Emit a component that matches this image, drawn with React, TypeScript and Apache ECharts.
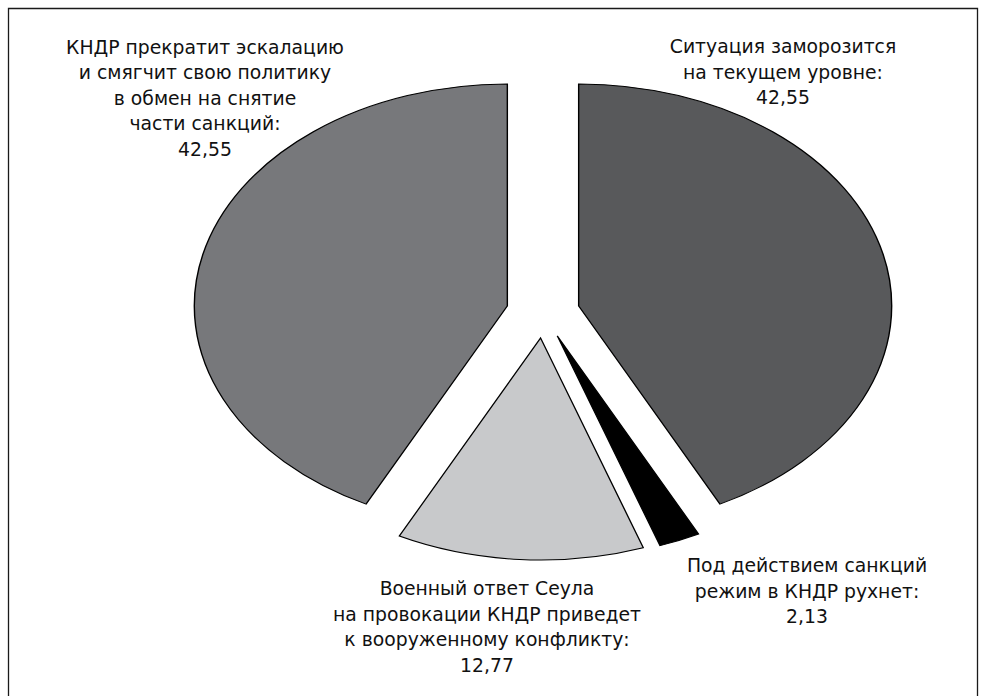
import React, { useEffect, useRef } from "react";
import * as echarts from "echarts";

// ---- data ----
const categories: string[] = [
  "Ситуация заморозится на текущем уровне",
  "Под действием санкций режим в КНДР рухнет",
  "Военный ответ Сеула на провокации КНДР приведет к вооруженному конфликту",
  "КНДР прекратит эскалацию и смягчит свою политику в обмен на снятие части санкций",
];
const values: number[] = [42.55, 2.13, 12.77, 42.55];
const labelLines: string[][] = [
  ["Ситуация заморозится", "на текущем уровне:"],
  ["Под действием санкций", "режим в КНДР рухнет:"],
  ["Военный ответ Сеула", "на провокации КНДР приведет", "к вооруженному конфликту:"],
  ["КНДР прекратит эскалацию", "и смягчит свою политику", "в обмен на снятие", "части санкций:"],
];

// ---- styles / layout ----
const sliceColors = ["#58595b", "#000000", "#c8c9cb", "#77787b"];
const CX = 543;
const CY = 312;
const RY = 222;
const RX = 313;
const EXPLODE = 26;
const labelPos: [number, number][] = [
  [783, 72],
  [807, 591],
  [487, 627],
  [205, 98],
];
const FONT = "'DejaVu Sans', 'Liberation Sans', Arial, sans-serif";
const FONT_SIZE = 18.8;

const fmt = (v: number) => v.toFixed(2).replace(".", ",");

export default function App() {
  const ref = useRef<HTMLDivElement>(null);
  useEffect(() => {
    if (!ref.current) return;
    const chart = echarts.init(ref.current, undefined, { renderer: "svg" });
    const total = values.reduce((a, b) => a + b, 0);
    const starts: number[] = [];
    const ends: number[] = [];
    let acc = 0;
    values.forEach((v) => {
      starts.push((acc / total) * Math.PI * 2);
      acc += v;
      ends.push((acc / total) * Math.PI * 2);
    });

    const labelGraphics = labelLines.map((lines, i) => ({
      type: "text",
      x: labelPos[i][0],
      y: labelPos[i][1],
      style: {
        text: [...lines, fmt(values[i])].join("\n"),
        fill: "#111",
        fontSize: FONT_SIZE,
        fontFamily: FONT,
        lineHeight: 25.5,
        align: "center",
        verticalAlign: "middle",
      },
    }));

    chart.setOption({
      animation: false,
      backgroundColor: "#ffffff",
      graphic: [
        {
          type: "rect",
          shape: { x: 8.5, y: 8.5, width: 969, height: 720 },
          style: { fill: "none", stroke: "#1a1a1a", lineWidth: 1.3 },
          silent: true,
        },
        ...labelGraphics,
      ],
      series: [
        {
          type: "custom",
          coordinateSystem: "none",
          data: values.map((v, i) => ({ name: categories[i], value: v })),
          renderItem: (params: any) => {
            const i = params.dataIndex;
            const s = starts[i];
            const e = ends[i];
            const mid = (s + e) / 2;
            return {
              type: "group",
              x: CX,
              y: CY,
              scaleX: RX / RY,
              children: [
                {
                  type: "sector",
                  shape: {
                    cx: EXPLODE * Math.sin(mid),
                    cy: -EXPLODE * Math.cos(mid),
                    r0: 0,
                    r: RY,
                    startAngle: s - Math.PI / 2,
                    endAngle: e - Math.PI / 2,
                    clockwise: true,
                  },
                  style: {
                    fill: sliceColors[i],
                    stroke: "#000000",
                    lineWidth: 1,
                    strokeNoScale: true,
                  },
                },
              ],
            };
          },
        },
      ],
    });
    return () => chart.dispose();
  }, []);

  return (
    <div
      ref={ref}
      style={{ position: "fixed", left: 0, top: 0, width: 985, height: 696, background: "#fff" }}
    />
  );
}
